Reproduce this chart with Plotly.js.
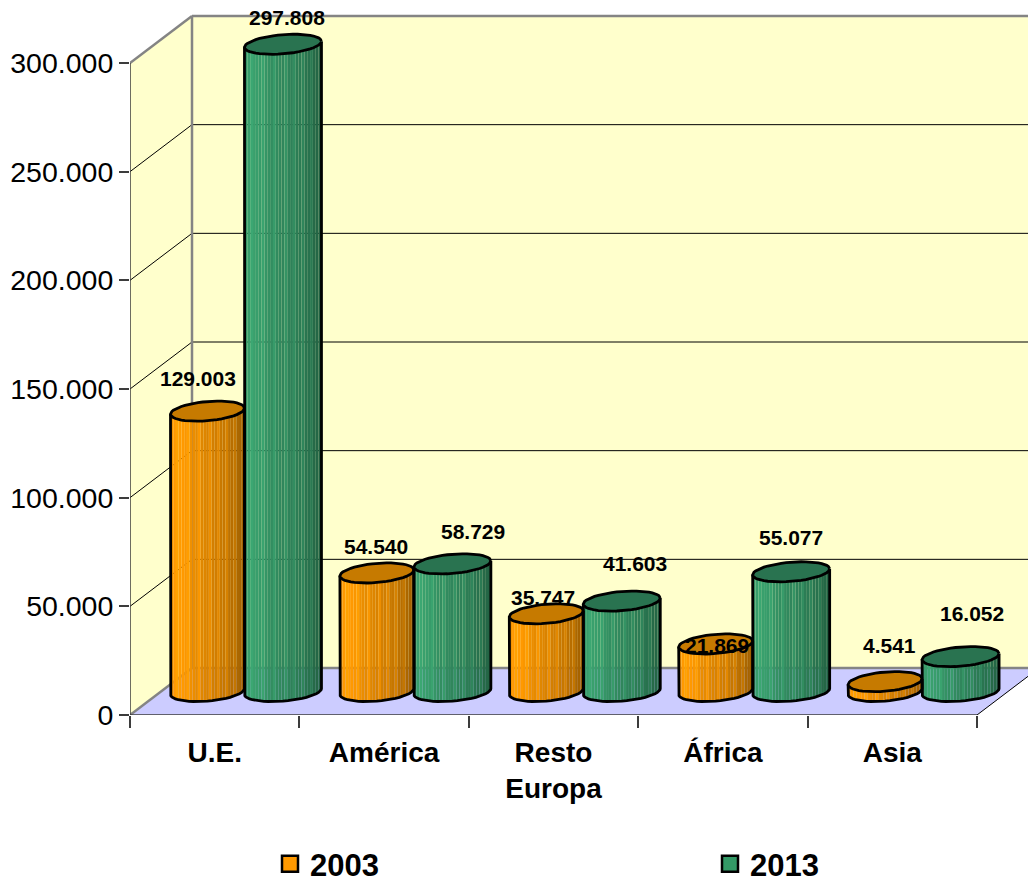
<!DOCTYPE html>
<html>
<head>
<meta charset="utf-8">
<script src="https://cdn.plot.ly/plotly-3.0.1.min.js"></script>
<style>html,body{margin:0;padding:0;background:#fff}</style>
</head>
<body>
<div id="chart"></div>
<script>
var categories = ['U.E.', 'América', 'Resto<br>Europa', 'África', 'Asia'];
var values2003 = [129003, 54540, 35747, 21869, 4541];
var values2013 = [297808, 58729, 41603, 55077, 16052];
var seriesNames = ['2003', '2013'];
var yTicks = [0, 50000, 100000, 150000, 200000, 250000, 300000];

var FONT = '"Liberation Sans", Arial, sans-serif';
var W = 1028, H = 879, L = 130, T = 10, B = 715;
var pxX = 847 / 5, k = 300000 / 652;          // px per category, value per px
var xMax = (W - L) / pxX, yMax = (B - T) * k;
var depthX = 62 / pxX, depthY = 47 * k;       // wall depth
var floorY = 23.5 * k;                        // cylinder base centre above front edge
var radY = 9.6, tilt = 3;                     // ellipse, px

// Label nudges (px) relative to the top of each cylinder
var nudge2003 = {dx: [-9.5, -0.5, -3, 1.5, 4], dy: [33, 26.5, 16, -1.5, 36]};
var nudge2013 = {dx: [4, 21, 13, 0, 11], dy: [27, 32, 37.6, 34, 43]};

// Shading across a cylinder (multiplier of base colour), with the light streaks
var shade = [0.96, 1.0, 1.06, 1.01, 1.0, 0.98, 1.03, 0.94, 0.92, 0.90, 0.98, 0.88, 0.87, 0.85,
             0.93, 0.83, 0.82, 0.89, 0.79, 0.78, 0.84, 0.74, 0.72, 0.77, 0.67, 0.65, 0.63];

function tint(rgb, f) {
  return 'rgb(' + rgb.map(function (c) { return Math.min(255, Math.round(c * f)); }).join(',') + ')';
}

var seriesDefs = [
  {name: seriesNames[0], legend: 'legend', vals: values2003, off: 0.4575, half: 37 / pxX, rgb: [255, 153, 0], top: '#C67A00', swatch: '#FF9900', nudge: nudge2003},
  {name: seriesNames[1], legend: 'legend2', vals: values2013, off: 0.903, half: 38.5 / pxX, rgb: [56, 158, 108], top: '#297350', swatch: '#339966', nudge: nudge2013}
];

var traces = [], overlays = [], annotations = [];
seriesDefs.forEach(function (s) {
  var bx = [], by = [], bb = [], bw = [], bc = [];
  var ex = [], ey = [], ox = [], oy = [];
  var n = shade.length, sw = 2 * s.half / n;
  s.vals.forEach(function (v, i) {
    var cx = i + s.off;
    shade.forEach(function (f, j) {
      var u = -1 + (j + 0.5) * 2 / n;
      var sag = radY * Math.sqrt(1 - u * u);
      bx.push(cx + u * s.half);
      bb.push(floorY + k * (tilt * u - sag));
      by.push(v + k * sag);
      bw.push(sw);
      bc.push(tint(s.rgb, f));
    });
    var t, a, m = 48;
    // top ellipse
    for (t = 0; t <= m; t++) {
      a = t / m * 2 * Math.PI;
      ex.push(cx + s.half * Math.cos(a));
      ey.push(floorY + v + k * (radY * Math.sin(a) + tilt * Math.cos(a)));
    }
    ex.push(null); ey.push(null);
    // body outline: left side, lower arc, right side
    ox.push(cx - s.half); oy.push(floorY + v - k * tilt);
    for (t = 0; t <= m / 2; t++) {
      a = t / (m / 2) * Math.PI;
      ox.push(cx - s.half * Math.cos(a));
      oy.push(floorY + k * (-radY * Math.sin(a) - tilt * Math.cos(a)));
    }
    ox.push(cx + s.half); oy.push(floorY + v + k * tilt);
    ox.push(null); oy.push(null);

    annotations.push({
      x: cx, y: floorY + v, xref: 'x', yref: 'y', showarrow: false,
      text: String(v).replace(/\B(?=(\d{3})+$)/g, '.'),
      xanchor: 'center', yanchor: 'middle',
      xshift: s.nudge.dx[i], yshift: s.nudge.dy[i],
      font: {family: FONT, size: 21, color: '#000', weight: 'bold'}
    });
  });
  traces.push({type: 'bar', x: bx, y: by, base: bb, width: bw, showlegend: false, hoverinfo: 'skip',
    marker: {color: bc, line: {width: 0}}});
  overlays.push({type: 'scatter', mode: 'lines', x: ox, y: oy, showlegend: false, hoverinfo: 'skip',
    line: {color: '#000', width: 2.8}});
  overlays.push({type: 'scatter', mode: 'lines', x: ex, y: ey, fill: 'toself', fillcolor: s.top,
    showlegend: false, hoverinfo: 'skip', line: {color: '#000', width: 2.8}});
});

var legendTraces = seriesDefs.map(function (s) {
  return {type: 'scatter', mode: 'markers', name: s.name, legend: s.legend, x: [-5], y: [0], hoverinfo: 'skip',
    marker: {symbol: 'square', size: 16, color: s.swatch, line: {color: '#000', width: 2.5}}};
});

var GRAY = '#848484', DARK = '#3c3c3c';
function poly(pts, fill) {
  return {type: 'path', layer: 'below', xref: 'x', yref: 'y', fillcolor: fill, line: {width: 0},
    path: 'M' + pts.map(function (p) { return p[0] + ',' + p[1]; }).join('L') + 'Z'};
}
function seg(x0, y0, x1, y1, color, width) {
  return {type: 'line', layer: 'below', xref: 'x', yref: 'y', x0: x0, y0: y0, x1: x1, y1: y1,
    line: {color: color, width: width}};
}
var yTop = 300000;
var shapes = [
  poly([[0, 0], [depthX, depthY], [depthX, yTop + depthY], [0, yTop]], '#FFFFCC'),
  poly([[depthX, depthY], [xMax, depthY], [xMax, yTop + depthY], [depthX, yTop + depthY]], '#FFFFCC'),
  poly([[0, 0], [5, 0], [5 + depthX, depthY], [depthX, depthY]], '#CCCCFF')
];
yTicks.slice(1, -1).forEach(function (v) {
  shapes.push(seg(0, v, depthX, v + depthY, '#000', 1));
  shapes.push(seg(depthX, v + depthY, xMax, v + depthY, '#000', 1));
});
shapes.push(seg(0, 0, depthX, depthY, GRAY, 2.5));
shapes.push(seg(0, yTop, depthX, yTop + depthY, GRAY, 2.5));
shapes.push(seg(depthX, depthY, depthX, yTop + depthY, GRAY, 2.5));
shapes.push(seg(depthX, yTop + depthY, xMax, yTop + depthY, GRAY, 2.5));
shapes.push(seg(depthX, depthY, xMax, depthY, GRAY, 2.5));
shapes.push(seg(5, 0, 5 + depthX, depthY, '#000', 1));
shapes.push(seg(0, 0, 0, yTop, DARK, 1.5));
shapes.push(seg(0, 0, 5, 0, DARK, 1.5));

function legendAt(left) {
  return {
    orientation: 'h', xref: 'container', yref: 'container',
    x: left / W, xanchor: 'left', y: (H - 864) / H, yanchor: 'middle',
    itemclick: false, itemdoubleclick: false,
    font: {family: FONT, size: 31, color: '#000', weight: 'bold'},
    bgcolor: 'rgba(0,0,0,0)', borderwidth: 0
  };
}

var layout = {
  width: W, height: H,
  margin: {l: L, r: 0, t: T, b: H - B, pad: 0},
  paper_bgcolor: '#fff', plot_bgcolor: 'rgba(0,0,0,0)',
  barmode: 'overlay',
  separators: ',.',
  showlegend: true,
  font: {family: FONT, color: '#000'},
  xaxis: {
    range: [0, xMax], showgrid: false, zeroline: false, showline: false,
    tickmode: 'array',
    tickvals: categories.map(function (c, i) { return i + 0.5; }),
    ticktext: categories,
    ticks: 'outside', ticklen: 12, tickcolor: 'rgba(0,0,0,0)',
    tickfont: {family: FONT, size: 28, color: '#000', weight: 'bold'},
    minor: {tickmode: 'array', tickvals: [0, 1, 2, 3, 4, 5], ticks: 'outside', ticklen: 12,
      tickcolor: DARK, tickwidth: 1.5, showgrid: false}
  },
  yaxis: {
    range: [0, yMax], showgrid: false, zeroline: false, showline: false,
    tickmode: 'array', tickvals: yTicks, tickformat: ',d',
    ticks: 'outside', ticklen: 10, tickcolor: DARK, tickwidth: 1.5,
    tickfont: {family: FONT, size: 28.5, color: '#000'}
  },
  legend: legendAt(270),
  legend2: legendAt(710),
  shapes: shapes,
  annotations: annotations
};

Plotly.newPlot('chart', traces.concat(overlays, legendTraces), layout, {displayModeBar: false});
</script>
</body>
</html>
